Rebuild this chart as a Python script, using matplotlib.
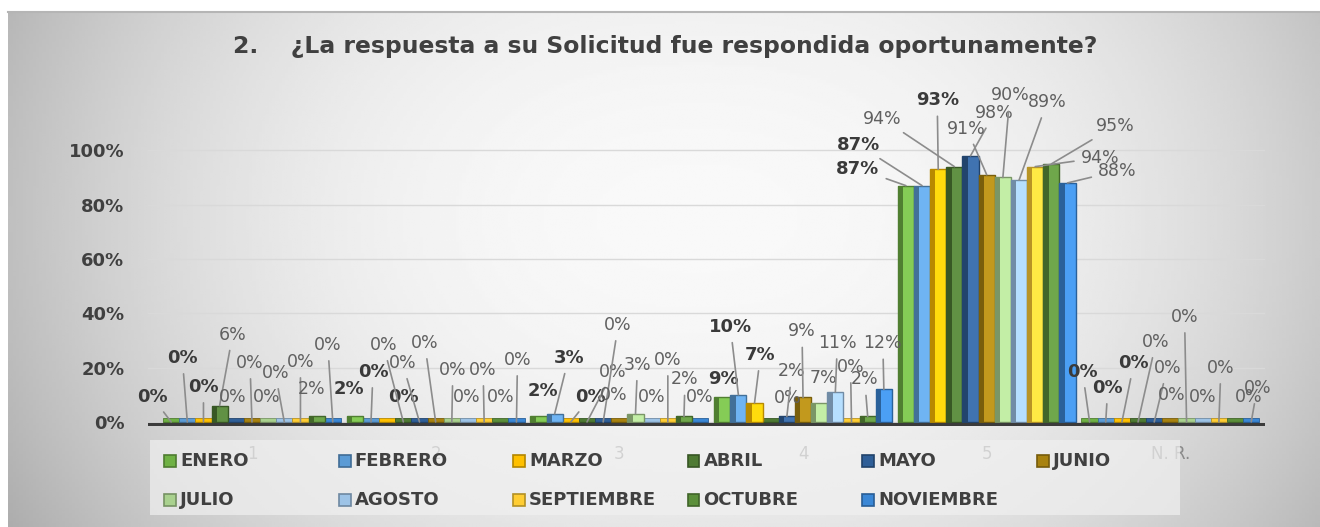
import matplotlib.pyplot as plt
from matplotlib.patches import Rectangle
import matplotlib.colors as mcolors
import numpy as np

# Data
categories = ['1', '2', '3', '4', '5', 'N. R.']
months = ['ENERO', 'FEBRERO', 'MARZO', 'ABRIL', 'MAYO', 'JUNIO',
          'JULIO', 'AGOSTO', 'SEPTIEMBRE', 'OCTUBRE', 'NOVIEMBRE']

enero = [0, 2, 2, 9, 87, 0]
febrero = [0, 0, 3, 10, 87, 0]
marzo = [0, 0, 0, 7, 93, 0]
abril = [6, 0, 0, 0, 94, 0]
mayo = [0, 0, 0, 2, 98, 0]
junio = [0, 0, 0, 9, 91, 0]
julio = [0, 0, 3, 7, 90, 0]
agosto = [0, 0, 0, 11, 89, 0]
septiembre = [0, 0, 0, 0, 94, 0]
octubre = [2, 0, 2, 2, 95, 0]
noviembre = [0, 0, 0, 12, 88, 0]
values = [enero, febrero, marzo, abril, mayo, junio,
          julio, agosto, septiembre, octubre, noviembre]

colors = ['#6FB144', '#5B9BD5', '#FFC000', '#4E7A33', '#2F5F98', '#A8820F',
          '#A9D18E', '#9DC3E6', '#FFCD33', '#5B8F3A', '#3A87D6']

# label offsets (pixels) from the top of each bar, per month / category
label_offsets = [
    [(-19, 25), (-6, 27), (4, 25), (1, 18), (-48, 17), (-7, 50)],
    [(-5, 64), (2, 50), (14, 56), (-8, 68), (-64, 41), (2, 34)],
    [(0, 35), (16, 25), (20, 25), (6, 48), (-1, 69), (12, 59)],
    [(13, 71), (-20, 77), (26, 50), (17, 24), (-72, 48), (18, 80)],
    [(-3, 25), (-17, 59), (15, 97), (5, 45), (24, 43), (13, 54)],
    [(-2, 59), (-11, 79), (-6, 27), (-1, 66), (-20, 46), (1, 27)],
    [(-1, 25), (1, 52), (2, 49), (4, 25), (7, 82), (-2, 105)],
    [(-9, 49), (-1, 25), (0, 25), (2, 49), (28, 78), (0, 25)],
    [(0, 60), (-1, 52), (0, 62), (-1, 55), (65, 9), (2, 54)],
    [(-5, 27), (0, 25), (1, 37), (-3, 37), (64, 38), (14, 25)],
    [(-5, 77), (1, 62), (0, 25), (-1, 46), (50, 12), (6, 34)],
]

W, H = 1320, 527
fig = plt.figure(figsize=(W / 100, H / 100), dpi=100)
fig.patch.set_facecolor('white')

# chart area background (soft radial gradient)
bg = fig.add_axes([8 / W, 0, 1 - 8 / W, 1 - 12 / H])
gx = np.linspace(-1, 1, 400)
gy = np.linspace(-1, 1, 200)
XX, YY = np.meshgrid(gx, gy)
shade = 0.975 - 0.2 * np.abs(XX - 0.05) ** 2.4 - 0.05 * (YY + 0.2) ** 2
bg.imshow(shade, cmap='gray', vmin=0, vmax=1, aspect='auto', extent=[0, 1, 0, 1])
bg.set_xlim(0, 1)
bg.set_ylim(0, 1)
bg.axis('off')
fig.add_artist(plt.Line2D([8 / W, 1], [1 - 12 / H, 1 - 12 / H], color='#b5b5b5', lw=1.5))

ax = fig.add_axes([148 / W, (H - 426) / H, (1265 - 148) / W, 330 / H])
ax.set_facecolor('none')

x = np.arange(len(categories))
bw = 0.088
for i, (m, vals) in enumerate(zip(months, values)):
    xs = x + (i - 5) * bw
    c = np.array(mcolors.to_rgb(colors[i]))
    dark = tuple(c * 0.72)
    light = tuple(np.minimum(c * 1.08 + 0.05, 1))
    # floor tile
    ax.bar(xs, 1.5, bw, color=colors[i], edgecolor=dark, lw=0.6, zorder=2)
    ax.bar(xs, vals, bw, color=light, edgecolor=dark, lw=1.0, zorder=3)
    ax.bar(xs - bw * 0.32, vals, bw * 0.3, color=dark, lw=0, zorder=4)
    for j, v in enumerate(vals):
        dx, dy = label_offsets[i][j]
        bold = i < 3
        arrow = None
        if np.hypot(dx, dy) > 30:
            arrow = dict(arrowstyle='-', color='#8c8c8c', lw=1.2, shrinkA=3, shrinkB=0)
        ax.annotate(f'{v}%', xy=(xs[j], v), xytext=(dx, dy), textcoords='offset pixels',
                    ha='center', va='center',
                    fontsize=13 if bold else 12.5,
                    fontweight='bold' if bold else 'normal',
                    color='#3a3a3a' if bold else '#606060',
                    arrowprops=arrow, zorder=6)

ax.set_xlim(-0.566, 5.515)
ax.set_ylim(-1.5, 120)
ax.set_yticks(range(0, 101, 20))
ax.set_yticklabels([f'{t}%' for t in range(0, 101, 20)], fontweight='bold',
                   color='#404040', fontsize=13)
ax.set_xticks(x)
ax.set_xticklabels(categories, color='#8a8a8a', fontsize=12)
ax.tick_params(axis='y', length=0, pad=17)
ax.tick_params(axis='x', length=0, pad=14)
ax.yaxis.grid(True, color='#d9d9d9', lw=1)
ax.set_axisbelow(True)
for s in ax.spines.values():
    s.set_visible(False)
ax.axhline(-1.0, color='#3b3b3b', lw=3, zorder=5)

# title
fig.text(665 / W, 1 - 47 / H, '2.    ¿La respuesta a su Solicitud fue respondida oportunamente?',
         ha='center', va='center', fontsize=16.9, fontweight='bold', color='#404040',
         family=['DejaVu Sans'])

# legend (Excel style, fixed column width)
fig.patches.append(Rectangle((150 / W, 1 - 515 / H), 1030 / W, 75 / H,
                             transform=fig.transFigure, facecolor='#f0f0f0',
                             alpha=0.7, edgecolor='none', zorder=0))
for k, m in enumerate(months):
    row, col = divmod(k, 6)
    px = 164 + col * 174.5
    py = 461 + row * 39
    c = np.array(mcolors.to_rgb(colors[k]))
    fig.patches.append(Rectangle((px / W, 1 - (py + 6) / H), 12 / W, 12 / H,
                                 transform=fig.transFigure, facecolor=colors[k],
                                 edgecolor=tuple(c * 0.7), lw=1.2, zorder=3))
    fig.text((px + 16) / W, 1 - py / H, m, ha='left', va='center', fontsize=13,
             fontweight='bold', color='#404040',
             family=['Liberation Sans Narrow', 'DejaVu Sans'])

fig.savefig('out.png', dpi=100)
